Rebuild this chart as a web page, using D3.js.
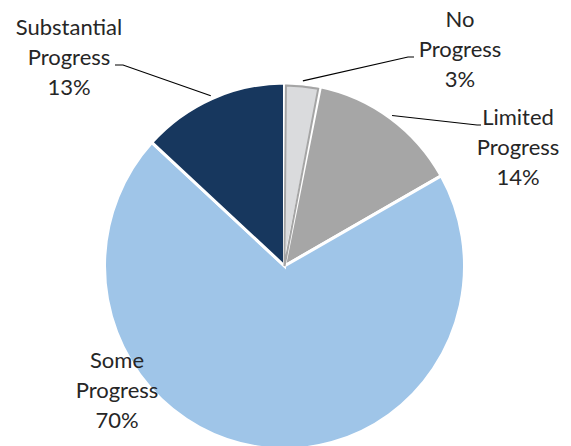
<!DOCTYPE html>
<html><head><meta charset="utf-8">
<script src="https://cdn.jsdelivr.net/npm/d3@7"></script>
<style>html,body{margin:0;padding:0;background:#fff;}</style>
</head><body>
<svg id="c" width="571" height="446"></svg>
<script>
const categories = ["No Progress", "Limited Progress", "Some Progress", "Substantial Progress"];
const labelLines = [["No", "Progress"], ["Limited", "Progress"], ["Some", "Progress"], ["Substantial", "Progress"]];
const values = [3.2, 13.6, 70.0, 13.2];
const pctLabels = ["3%", "14%", "70%", "13%"];
const colors = ["#dadbdd", "#a6a6a6", "#9fc5e8", "#17375e"];

// label layout: anchor (text centre x, first baseline y), elbow, end of leader line
const layout = [
  {x: 460, y: 27, leader: [[408, 57], [414, 57]]},
  {x: 518, y: 125, leader: [[477, 125], [481, 125]]},
  {x: 117, y: 368, leader: null},
  {x: 69, y: 35, leader: [[123, 65], [115, 65]]}
];

const svg = d3.select("#c");
const cx = 284.5, cy = 266, r = 180, sy = 183 / 180;
const g = svg.append("g").attr("transform", `translate(${cx},${cy}) scale(1,${sy})`);
const pie = d3.pie().sort(null).value(d => d)(values);
const arc = d3.arc().innerRadius(0).outerRadius(r);

g.selectAll("path.slice").data(pie).join("path")
  .attr("class", "slice")
  .attr("d", arc)
  .attr("fill", (d, i) => colors[i])
  .attr("stroke", "#fff").attr("stroke-width", 3).attr("stroke-linejoin", "miter");

// inner gray border on the "No Progress" slice
const inner = d3.arc().innerRadius(0).outerRadius(r - 2.5);
g.append("path").attr("d", inner({startAngle: pie[0].startAngle + 0.008, endAngle: pie[0].endAngle - 0.01}))
  .attr("fill", "none").attr("stroke", "#a5a5a5").attr("stroke-width", 2);

pie.forEach((d, i) => {
  const L = layout[i];
  if (L.leader) {
    const a = (d.startAngle + d.endAngle) / 2;
    const p0 = [cx + (r + 3) * Math.sin(a), cy - (r + 3) * sy * Math.cos(a)];
    svg.append("path")
      .attr("d", d3.line()([p0, ...L.leader]))
      .attr("fill", "none").attr("stroke", "#000").attr("stroke-width", 1.2);
  }
  const t = svg.append("text")
    .attr("x", L.x).attr("y", L.y)
    .attr("text-anchor", "middle")
    .attr("font-family", "Lato, 'Open Sans', sans-serif")
    .attr("font-size", 22).attr("fill", "#262626");
  const lines = [...labelLines[i], pctLabels[i]];
  lines.forEach((s, k) => t.append("tspan").attr("x", L.x).attr("y", L.y + k * 30).text(s));
});
</script>
</body></html>
